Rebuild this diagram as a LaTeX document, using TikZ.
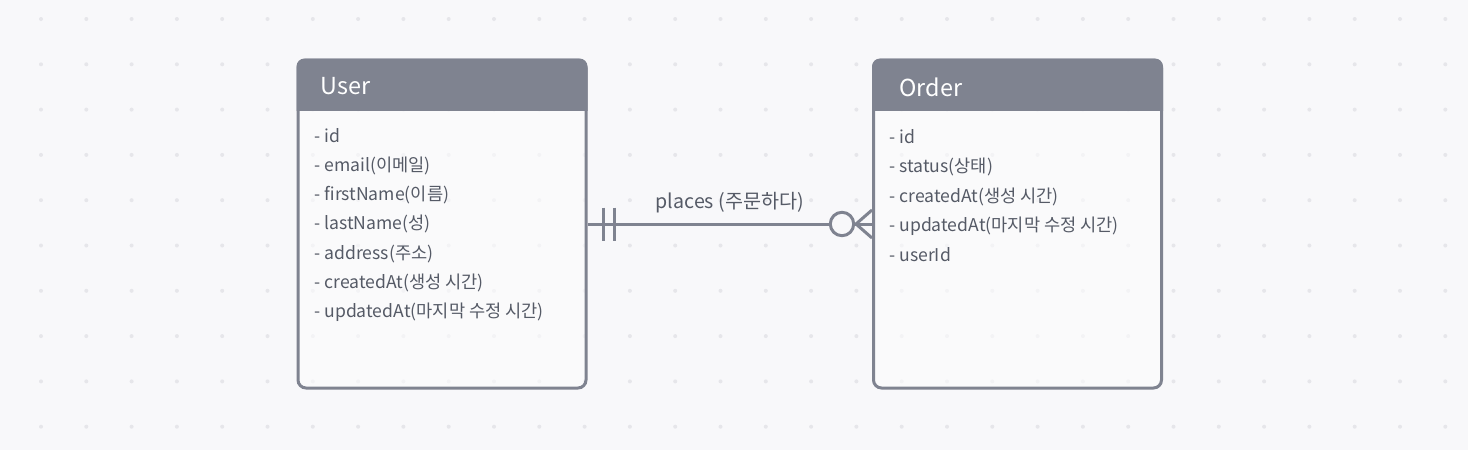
\documentclass[tikz,border=0pt]{standalone}
\usepackage{fontspec}
\setmainfont{Noto Sans CJK KR}
\usepackage{xcolor}
\usepackage{tikz}
\usetikzlibrary{positioning}

\definecolor{bgcol}{HTML}{F8F8FA}
\definecolor{boxgray}{HTML}{7F8390}
\definecolor{txtgray}{HTML}{555A66}
\definecolor{dotgray}{HTML}{E6E6EA}
\definecolor{bodycol}{HTML}{FCFCFD}

\begin{document}
\begin{tikzpicture}[
        x=0.5pt, y=-0.5pt,
        every node/.style={font=\fontsize{8.8}{10}\selectfont, text=txtgray},
        entity/.style={
            draw=boxgray,
            line width=1.5pt,
            fill=bodycol,
            fill opacity=.6,
            rounded corners=4pt,
            minimum width=144pt,
            minimum height=164pt,
            inner sep=0pt
        },
        header/.style={fill=boxgray, rounded corners=4pt},
        title/.style={anchor=base west, inner sep=0pt, text=white, font=\fontsize{11.7}{13}\selectfont},
        attr/.style={anchor=base west, inner sep=0pt},
        rel/.style={draw=boxgray, line width=1.5pt},
        lbl/.style={anchor=base, inner sep=0pt, font=\fontsize{9.8}{11}\selectfont}
    ]

        \fill[bgcol] (0,0) rectangle (1468,450);
        \foreach \x in {0,...,31}
            \foreach \y in {0,...,9}
                \fill[dotgray] ({41+45.3*\x},{19+45.3*\y}) circle[radius=1pt];

        \node[entity] (user)  at (442,224)    {};
        \node[entity] (order) at (1017.5,224) {};

        \begin{scope}
            \clip (user.north west) rectangle ([yshift=-26pt]user.north east);
            \fill[header] (user.north west) rectangle (user.south east);
        \end{scope}
        \begin{scope}
            \clip (order.north west) rectangle ([yshift=-26pt]order.north east);
            \fill[header] (order.north west) rectangle (order.south east);
        \end{scope}

        \node[title] (usertitle)  at (320,94) {User};
        \node[title] (ordertitle) at (899,96) {Order};

        \foreach \txt [count=\i] in {- id, - email(이메일), - firstName(이름), - lastName(성),
                - address(주소), - createdAt(생성 시간), - updatedAt(마지막 수정 시간)}
            \node[attr] (ua\i) at (314,{142+29.3*(\i-1)}) {\txt};

        \foreach \txt [count=\i] in {- id, - status(상태), - createdAt(생성 시간),
                - updatedAt(마지막 수정 시간), - userId}
            \node[attr] (oa\i) at (889,{143+29.5*(\i-1)}) {\txt};

        \draw[rel] (user.east) -- (order.west)
            node[lbl, midway, yshift=8pt] (places) {places (주문하다)};

        \coordinate[right=8pt of user.east]    (barone);
        \coordinate[right=13.5pt of user.east] (bartwo);
        \draw[rel] (barone) ++(0,-16.5) -- ++(0,33);
        \draw[rel] (bartwo) ++(0,-16.5) -- ++(0,33);

        \coordinate[left=8pt of order.west] (crow);
        \draw[rel] (crow) -- ([yshift=7pt]order.west);
        \draw[rel] (crow) -- ([yshift=-7pt]order.west);
        \draw[rel, fill=bgcol] ([xshift=-15pt]order.west) circle[radius=5.85pt];

    \end{tikzpicture}
\end{document}
